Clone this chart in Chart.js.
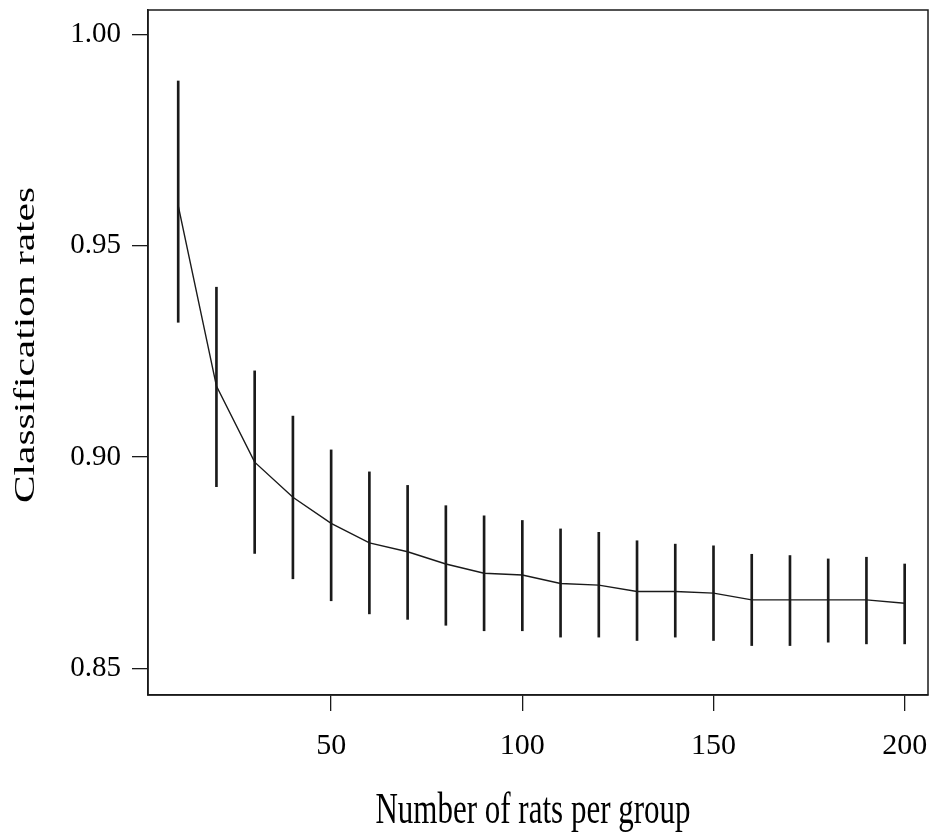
<!DOCTYPE html>
<html>
<head>
<meta charset="utf-8">
<title>Classification rates</title>
<script src="https://cdn.jsdelivr.net/npm/chart.js@4.4.1/dist/chart.umd.min.js"></script>
<style>
    html, body { margin: 0; padding: 0; background: #fff; }
    #wrap { width: 930px; height: 835px; }
</style>
</head>
<body>
<div id="wrap"><canvas id="rates-chart" width="930" height="835"></canvas></div>
<script>
// Group sizes and classification rates
const groupSizes = [10, 20, 30, 40, 50, 60, 70, 80, 90, 100, 110, 120, 130, 140, 150, 160, 170, 180, 190, 200];
const meanRates  = [0.9595, 0.9168, 0.8988, 0.8905, 0.8843, 0.8797, 0.8776, 0.8747, 0.8725, 0.8721,
                    0.8701, 0.8697, 0.8682, 0.8682, 0.8678, 0.8662, 0.8662, 0.8662, 0.8662, 0.8654];
const lowerRates = [0.9319, 0.8930, 0.8772, 0.8712, 0.8660, 0.8629, 0.8616, 0.8602, 0.8589, 0.8589,
                    0.8574, 0.8574, 0.8566, 0.8574, 0.8566, 0.8554, 0.8554, 0.8562, 0.8558, 0.8558];
const upperRates = [0.9890, 0.9402, 0.9204, 0.9097, 0.9017, 0.8965, 0.8933, 0.8885, 0.8861, 0.8850,
                    0.8830, 0.8822, 0.8802, 0.8794, 0.8790, 0.8770, 0.8767, 0.8759, 0.8763, 0.8747];

const xTickValues = [50, 100, 150, 200];
const yTickValues = [0.85, 0.90, 0.95, 1.00];

const xTitle = 'Number of rats per group';
const yTitle = 'Classification rates';

const ink = '#1a1a1a';
const serif = '"Liberation Serif", "Times New Roman", serif';

// Frame around the plot region plus the two axis titles (titles are drawn tall, as in the original)
const framePlugin = {
    id: 'frame',
    afterDraw(chart) {
        const { ctx, chartArea: a } = chart;
        ctx.save();
        ctx.strokeStyle = ink;
        ctx.lineWidth = 1.5;
        ctx.strokeRect(a.left, a.top, a.right - a.left, a.bottom - a.top);

        ctx.fillStyle = '#000';
        ctx.textAlign = 'center';
        ctx.textBaseline = 'alphabetic';
        ctx.font = '31px ' + serif;

        ctx.save();
        ctx.translate(533, 823);
        ctx.scale(1, 1.42);
        ctx.fillText(xTitle, 0, 0);
        ctx.restore();

        ctx.translate(34, 345);
        ctx.rotate(-Math.PI / 2);
        ctx.scale(1.38, 1);
        ctx.font = '30px ' + serif;
        ctx.fillText(yTitle, 0, 0);
        ctx.restore();
    }
};

const ctx = document.getElementById('rates-chart').getContext('2d');

new Chart(ctx, {
    data: {
        datasets: [
            {
                type: 'bar',
                label: 'range',
                data: groupSizes.map((g, i) => ({ x: g, y: [lowerRates[i], upperRates[i]] })),
                backgroundColor: ink,
                borderWidth: 0,
                barThickness: 2,
                order: 2
            },
            {
                type: 'line',
                label: 'mean',
                data: groupSizes.map((g, i) => ({ x: g, y: meanRates[i] })),
                borderColor: ink,
                borderWidth: 1.4,
                pointRadius: 0,
                tension: 0,
                fill: false,
                order: 1
            }
        ]
    },
    options: {
        responsive: false,
        animation: false,
        layout: { padding: { left: 0, top: 10, right: 2, bottom: 0 } },
        plugins: {
            legend: { display: false },
            tooltip: { enabled: false }
        },
        scales: {
            x: {
                type: 'linear',
                offset: false,
                min: 2.1,
                max: 206.1,
                afterBuildTicks: (s) => { s.ticks = xTickValues.map(v => ({ value: v })); },
                afterFit: (s) => { s.height = 140; s.paddingLeft = 0; s.paddingRight = 0; },
                ticks: {
                    color: '#000',
                    font: { family: serif, size: 30 },
                    padding: 17,
                    maxRotation: 0,
                    autoSkip: false
                },
                grid: { offset: false, drawOnChartArea: false, drawTicks: true, tickLength: 16, color: ink, lineWidth: 1.3 },
                border: { display: true, color: ink, width: 1.5 }
            },
            y: {
                min: 0.8437,
                max: 1.0058,
                afterBuildTicks: (s) => { s.ticks = yTickValues.map(v => ({ value: v })); },
                afterFit: (s) => { s.width = 148; s.paddingTop = 0; s.paddingBottom = 0; },
                ticks: {
                    color: '#000',
                    font: { family: serif, size: 29 },
                    padding: 11,
                    callback: (v) => v.toFixed(2)
                },
                grid: { drawOnChartArea: false, drawTicks: true, tickLength: 16, color: ink, lineWidth: 1.3 },
                border: { display: true, color: ink, width: 1.5 }
            }
        }
    },
    plugins: [framePlugin]
});
</script>
</body>
</html>
